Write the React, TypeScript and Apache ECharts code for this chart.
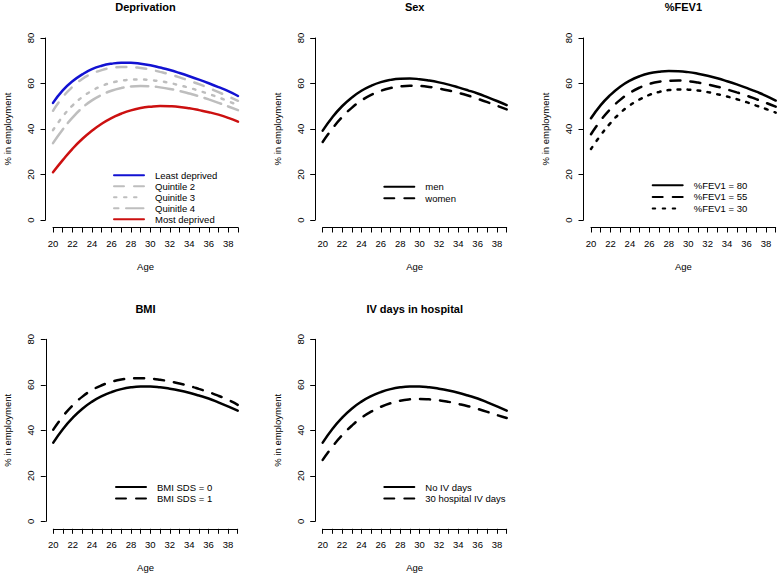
import React, { useEffect, useRef } from "react";
import * as echarts from "echarts";

// ---- data ----
const ages = [20, 21, 22, 23, 24, 25, 26, 27, 28, 29, 30, 31, 32, 33, 34, 35, 36, 37, 38, 39];
const xTickLabels = ["20", "22", "24", "26", "28", "30", "32", "34", "36", "38"];
const panelTitles = ["Deprivation", "Sex", "%FEV1", "BMI", "IV days in hospital"];

// Deprivation
const leastDeprived = [51.5, 57, 61, 64, 66.3, 67.8, 68.7, 69.1, 69.1, 68.7, 68, 67, 65.9, 64.6, 63.2, 61.7, 60.1, 58.4, 56.6, 54.5];
const quintile2 = [48, 54, 58.5, 62, 64.3, 65.9, 66.8, 67.2, 67.2, 66.8, 66.1, 65.1, 64, 62.7, 61.2, 59.7, 58, 56.2, 54.3, 52.4];
const quintile3 = [39.5, 45.5, 50.3, 54, 56.8, 58.9, 60.3, 61.2, 61.7, 61.8, 61.5, 61, 60.2, 59.2, 58.1, 56.8, 55.4, 53.9, 52.2, 50.5];
const quintile4 = [33.8, 39.8, 45, 49.3, 52.6, 55, 56.8, 58, 58.7, 58.9, 58.8, 58.3, 57.6, 56.7, 55.6, 54.4, 53, 51.5, 49.9, 48.3];
const mostDeprived = [21, 26.3, 31.3, 35.6, 39.2, 42.3, 44.8, 46.7, 48.2, 49.2, 49.8, 50.1, 50, 49.7, 49.1, 48.3, 47.4, 46.3, 44.9, 43.2];
// Sex
const men = [39.3, 45.2, 50, 53.8, 56.8, 59, 60.6, 61.6, 62.1, 62.2, 61.9, 61.3, 60.5, 59.5, 58.3, 57, 55.6, 54, 52.3, 50.5];
const women = [34.3, 40.2, 45.2, 49.3, 52.5, 55, 56.8, 58, 58.7, 59, 58.9, 58.5, 57.8, 56.9, 55.9, 54.7, 53.3, 51.8, 50.2, 48.6];
// %FEV1
const fev80 = [44.7, 50.5, 55, 58.6, 61.3, 63.2, 64.5, 65.2, 65.5, 65.4, 65, 64.3, 63.4, 62.3, 61, 59.6, 58.1, 56.4, 54.6, 52.5];
const fev55 = [37.7, 43.8, 48.8, 52.8, 55.9, 58.2, 59.8, 60.8, 61.2, 61.3, 61, 60.4, 59.6, 58.6, 57.4, 56.1, 54.7, 53.1, 51.5, 49.8];
const fev30 = [31.2, 37.3, 42.6, 47, 50.4, 53, 55, 56.3, 57.1, 57.4, 57.3, 56.9, 56.2, 55.3, 54.3, 53.1, 51.8, 50.3, 48.8, 47.2];
// BMI
const bmi0 = [34.6, 40.6, 45.5, 49.5, 52.6, 55, 56.8, 58.1, 58.9, 59.2, 59.2, 58.9, 58.3, 57.5, 56.5, 55.3, 54, 52.3, 50.5, 48.6];
const bmi1 = [40.3, 46.2, 51, 54.8, 57.7, 59.8, 61.3, 62.3, 62.8, 62.9, 62.7, 62.2, 61.5, 60.6, 59.5, 58.2, 56.8, 55.2, 53.4, 51.2];
// IV days
const noIV = [34.6, 40.6, 45.5, 49.5, 52.6, 55, 56.8, 58.1, 58.9, 59.2, 59.2, 58.9, 58.3, 57.5, 56.5, 55.3, 54, 52.3, 50.5, 48.6];
const iv30 = [27, 32.8, 37.8, 42, 45.5, 48.2, 50.3, 51.9, 53, 53.6, 53.8, 53.6, 53.2, 52.5, 51.6, 50.6, 49.4, 48.1, 46.7, 45.4];

// ---- styles ----
const FONT = "Liberation Sans, Arial, Helvetica, sans-serif";
const SOLID: "solid" = "solid";
const DASHED = [10, 10];
const DOTTED = [2.5, 7.5];
const LONGDASH = [17.5, 7.5];
const BLUE = "#1212d2";
const RED = "#cc1010";
const GRAY = "#bebebe";
const BLACK = "#000000";

type SeriesDef = { name: string; values: number[]; color: string; dash: any; legendOffset?: number };
const panelSeries: SeriesDef[][] = [
  [
    { name: "Least deprived", values: leastDeprived, color: BLUE, dash: SOLID },
    { name: "Quintile 2", values: quintile2, color: GRAY, dash: DASHED },
    { name: "Quinitle 3", values: quintile3, color: GRAY, dash: DOTTED },
    { name: "Quinitle 4", values: quintile4, color: GRAY, dash: LONGDASH, legendOffset: 12.5 },
    { name: "Most deprived", values: mostDeprived, color: RED, dash: SOLID },
  ],
  [
    { name: "men", values: men, color: BLACK, dash: SOLID },
    { name: "women", values: women, color: BLACK, dash: DASHED },
  ],
  [
    { name: "%FEV1 = 80", values: fev80, color: BLACK, dash: SOLID },
    { name: "%FEV1 = 55", values: fev55, color: BLACK, dash: DASHED },
    { name: "%FEV1 = 30", values: fev30, color: BLACK, dash: DOTTED },
  ],
  [
    { name: "BMI SDS = 0", values: bmi0, color: BLACK, dash: SOLID },
    { name: "BMI SDS = 1", values: bmi1, color: BLACK, dash: DASHED },
  ],
  [
    { name: "No IV days", values: noIV, color: BLACK, dash: SOLID },
    { name: "30 hospital IV days", values: iv30, color: BLACK, dash: DASHED },
  ],
];

// layout (pixel positions of each panel)
const grids = [
  { left: 53, top: 38, width: 185, height: 182 },
  { left: 322.7, top: 38, width: 184, height: 182 },
  { left: 591, top: 38, width: 184.7, height: 182 },
  { left: 53.3, top: 339.3, width: 184.4, height: 182 },
  { left: 322.7, top: 339.3, width: 184, height: 182 },
];
const titleTops = [1.5, 1.5, 1.5, 303.5, 303.5];
const legendPos = [
  { left: 113, top: 169.7, gap: 0 },
  { left: 383.3, top: 181.2, gap: 0.6 },
  { left: 651.7, top: 179.8, gap: 0.6 },
  { left: 115, top: 481.5, gap: 0.6 },
  { left: 383.3, top: 481.5, gap: 0.6 },
];

function buildOption(): any {
  const textBase = { fontFamily: FONT, color: "#000" };
  const grid = grids.map((g) => ({ ...g, containLabel: false, outerBoundsMode: "none", show: false }));
  const xAxis = grids.map((_, i) => ({
    type: "value",
    gridIndex: i,
    min: 20,
    max: 39,
    interval: 1,
    offset: 7.5,
    axisLine: { show: true, onZero: false, lineStyle: { color: "#000", width: 1 } },
    axisTick: { show: true, length: 5, inside: false, lineStyle: { color: "#000", width: 1 } },
    axisLabel: {
      show: true,
      margin: 11,
      fontSize: 9.5,
      ...textBase,
      formatter: (v: number) => (xTickLabels.includes(String(v)) ? String(v) : ""),
    },
    splitLine: { show: false },
    name: "Age",
    nameLocation: "middle",
    nameGap: 34,
    nameTextStyle: { fontSize: 9.5, ...textBase },
  }));
  const yAxis = grids.map((_, i) => ({
    type: "value",
    gridIndex: i,
    min: 0,
    max: 80,
    interval: 20,
    offset: 7.5,
    axisLine: { show: true, onZero: false, lineStyle: { color: "#000", width: 1 } },
    axisTick: { show: true, length: 5, inside: false, lineStyle: { color: "#000", width: 1 } },
    axisLabel: { show: true, rotate: 90, margin: 10, fontSize: 9.5, ...textBase },
    splitLine: { show: false },
    name: "% in employment",
    nameLocation: "middle",
    nameGap: 33,
    nameTextStyle: { fontSize: 9.5, ...textBase },
  }));
  const title = panelTitles.map((t, i) => ({
    text: t,
    left: grids[i].left + grids[i].width / 2,
    top: titleTops[i],
    textAlign: "center",
    padding: 0,
    textStyle: { fontSize: 11, fontWeight: "bold", ...textBase },
  }));
  const series: any[] = [];
  panelSeries.forEach((list, i) => {
    list.forEach((s) => {
      series.push({
        type: "line",
        name: s.name,
        xAxisIndex: i,
        yAxisIndex: i,
        data: ages.map((a, k) => [a, s.values[k]]),
        symbol: "none",
        showSymbol: false,
        smooth: true,
        lineStyle: { color: s.color, width: 2.5, type: s.dash, cap: "round" },
        itemStyle: { color: s.color },
        emphasis: { disabled: true },
      });
    });
  });
  const legend = panelSeries.map((list, i) => ({
    data: list.map((s) =>
      s.legendOffset
        ? { name: s.name, lineStyle: { type: s.dash, dashOffset: s.legendOffset } }
        : s.name
    ),
    orient: "vertical",
    left: legendPos[i].left,
    top: legendPos[i].top,
    padding: 0,
    itemGap: legendPos[i].gap,
    itemWidth: 30,
    itemHeight: 11,
    selectedMode: false,
    itemStyle: { opacity: 0 },
    textStyle: { fontSize: 9.5, lineHeight: 11, padding: [0, 0, 0, 6], ...textBase },
  }));
  return {
    animation: false,
    backgroundColor: "#ffffff",
    title,
    grid,
    xAxis,
    yAxis,
    legend,
    series,
  };
}

export default function App() {
  const ref = useRef<HTMLDivElement>(null);
  useEffect(() => {
    if (!ref.current) return;
    const chart = echarts.init(ref.current, undefined, { renderer: "svg" });
    chart.setOption(buildOption());
    return () => chart.dispose();
  }, []);
  return (
    <div
      ref={ref}
      style={{ position: "fixed", left: 0, top: 0, width: 780, height: 577, background: "#fff" }}
    />
  );
}
